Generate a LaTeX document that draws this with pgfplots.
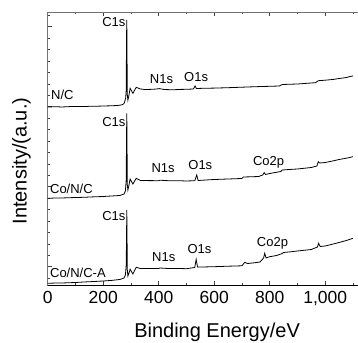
\documentclass[border=0pt]{standalone}
\usepackage{pgfplots}
\pgfplotsset{compat=1.18}
\usepackage{fontspec}
\setmainfont{Liberation Sans}
\begin{document}
\begin{tikzpicture}
\begin{axis}[
  scale only axis, width=310.8pt, height=273pt,
  xmin=0, xmax=1120, ymin=0, ymax=273,
  xtick={0,200,...,1000},
  minor xtick={100,300,...,1100},
  ytick={18.3,98.3,178.3,258.3},
  minor ytick={6.87,18.3,...,272},
  yticklabels={},
  ytick pos=left,
  tick align=inside,
  major tick length=4pt, minor tick length=2.5pt,
  axis line style={black!55, line width=0.7pt},
  tick style={black!75, line width=0.6pt},
  /pgf/number format/assume math mode=true,
  xticklabel style={font=\fontsize{17.5}{20}\selectfont, yshift=-3pt},
  xlabel={Binding Energy/eV},
  xlabel style={at={(axis description cs:0.545,-0.194)}, anchor=base, font=\fontsize{20}{24}\selectfont},
  ylabel={Intensity/(a.u.)},
  ylabel style={at={(axis description cs:-0.0676,0.454)}, rotate=0, anchor=base, font=\fontsize{20}{24}\selectfont},
  clip=false,
]
\draw[black, line width=0.7pt] (rel axis cs:0,0) -- (rel axis cs:1,0);
% N/C
\addplot[black, line width=0.8pt] coordinates {
(0,178) (30,178.3) (50,178) (80,178.4) (100,178.5) (130,178.4) (150,178.7) (180,178.8) (200,179) (230,179.2) (250,179.5) (265,180) (272,180.8) (276,182) (279,185) (281,187) (283,195) (284,245) (285,265) (286,225) (287,190) (289,185) (293,190) (297,196.7) (307,191.7) (319,197.7) (334,196) (350,195.5) (380,195.7) (398,196.2) (402,196.4) (420,195.5) (450,195.2) (480,195.6) (500,195.7) (525,196) (531,199) (536,196.5) (560,196.7) (600,196.9) (650,197.3) (700,197.8) (750,198.3) (800,198.7) (835,199) (845,200.5) (900,201) (930,201.6) (965,202.3) (975,204.3) (1000,204.8) (1030,205.6) (1050,206.5) (1075,207.4) (1090,208.5) (1100,209)
};
% Co/N/C
\addplot[black, line width=0.8pt] coordinates {
(0,86.7) (30,87) (60,87.1) (100,87.5) (130,87.7) (160,88.1) (200,88.5) (230,89) (260,89.5) (275,91) (280,94) (283,105) (284,145) (285,171.5) (286,135) (287,100) (289,95) (293,100) (297,106) (307,101) (319,106.7) (334,104.5) (360,104.4) (400,104.3) (404,104.8) (440,104.2) (470,104.3) (500,104) (530,104.3) (537,110) (542,104.5) (570,105) (600,105.5) (650,106) (700,106.5) (705,108) (730,108.2) (760,108.5) (775,110) (780,112.3) (785,110.5) (800,111.5) (820,112.5) (840,113.5) (845,115) (870,115.5) (900,116) (950,117.5) (970,119) (975,123.3) (980,122) (1000,122.5) (1030,124.2) (1050,125.5) (1080,127) (1100,128.3)
};
% Co/N/C-A
\addplot[black, line width=0.8pt] coordinates {
(0,1.7) (30,2) (60,2.1) (100,2.5) (130,3) (160,3.4) (200,4) (230,4.6) (260,5.5) (275,7) (280,10) (283,20) (284,45) (285,75) (286,45) (287,15) (289,9) (293,12) (297,15.7) (307,11) (319,17.7) (334,16.5) (360,16.6) (400,16.5) (404,17) (440,16.4) (470,16.5) (500,16.3) (530,17.5) (535,25.7) (540,18) (570,18.1) (600,18.3) (650,18.8) (700,19.2) (710,22.7) (720,21.5) (745,22.2) (765,23) (778,27) (782,31.7) (787,27) (800,28.3) (825,29.5) (845,31.5) (850,32.5) (875,33.2) (900,34) (950,35.5) (972,38) (976,41.7) (982,38.5) (1000,39) (1025,40.7) (1050,42.5) (1075,44.4) (1100,46.7)
};
\begin{scope}[every node/.style={font=\fontsize{13}{15}\selectfont, inner sep=0pt}]
\node[anchor=west] at (axis cs:12,190) {N/C};
\node[anchor=west] at (axis cs:8,96.3) {Co/N/C};
\node[anchor=west] at (axis cs:8,12.5) {Co/N/C-A};
\node[anchor=east] at (axis cs:281,262.5) {C1s};
\node[anchor=east] at (axis cs:281,163.3) {C1s};
\node[anchor=east] at (axis cs:281,68.8) {C1s};
\node at (axis cs:410,206) {N1s};
\node at (axis cs:416,116.8) {N1s};
\node at (axis cs:418,28.2) {N1s};
\node at (axis cs:535,208.3) {O1s};
\node at (axis cs:550,120) {O1s};
\node at (axis cs:547,36.2) {O1s};
\node at (axis cs:796,123) {Co2p};
\node at (axis cs:810,41.2) {Co2p};
\end{scope}
\end{axis}
\pgfresetboundingbox
\path (-47.7pt,-57pt) rectangle (310.3pt,285pt);
\end{tikzpicture}
\end{document}
